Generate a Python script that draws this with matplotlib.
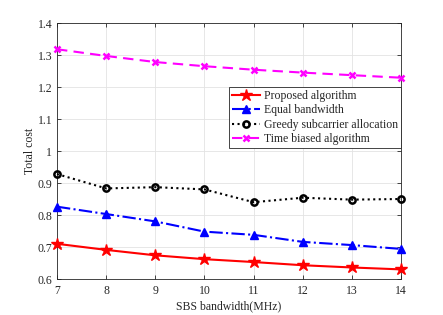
import matplotlib
matplotlib.use("Agg")
import matplotlib.pyplot as plt

bandwidth = [7, 8, 9, 10, 11, 12, 13, 14]
proposed = [0.710, 0.691, 0.674, 0.662, 0.653, 0.643, 0.636, 0.630]
equal_bw = [0.826, 0.803, 0.780, 0.748, 0.738, 0.716, 0.706, 0.694]
greedy = [0.928, 0.883, 0.887, 0.880, 0.840, 0.854, 0.848, 0.850]
time_biased = [1.318, 1.297, 1.278, 1.265, 1.254, 1.245, 1.237, 1.229]
yticks = [0.6, 0.7, 0.8, 0.9, 1.0, 1.1, 1.2, 1.3, 1.4]
ytick_labels = ["0.6", "0.7", "0.8", "0.9", "1", "1.1", "1.2", "1.3", "1.4"]

plt.rcParams['font.family'] = ['Liberation Serif', 'DejaVu Serif']
plt.rcParams['font.size'] = 8.5
txt = '#262626'

fig = plt.figure(figsize=(4.43, 3.15), dpi=100)
ax = fig.add_axes([57/443, 1 - 279/315, (401-57)/443, (279-23)/315])

ax.plot(bandwidth, proposed, '-', color='red', marker='*', markersize=9, lw=1.5, label='Proposed algorithm', clip_on=False, zorder=5)
ax.plot(bandwidth, equal_bw, '-.', color='blue', marker='^', markersize=6, lw=1.5, label='Equal bandwidth', clip_on=False, zorder=5)
ax.plot(bandwidth, greedy, ':', color='black', marker='o', markersize=4.5, markerfacecolor='none', markeredgewidth=1.8, lw=1.5, label='Greedy subcarrier allocation', clip_on=False, zorder=5)
ax.plot(bandwidth, time_biased, '--', color='magenta', marker='x', markersize=5, markeredgewidth=1.8, lw=1.5, dashes=(5, 3), label='Time biased algorithm', clip_on=False, zorder=5)

ax.set_xlim(7, 14)
ax.set_ylim(0.6, 1.4)
ax.set_xticks(bandwidth)
ax.set_yticks(yticks)
ax.set_yticklabels(ytick_labels)
ax.grid(True, color='#e3e3e3', lw=0.6)
ax.set_axisbelow(True)
ax.tick_params(direction='in', top=True, right=True, colors=txt, labelcolor=txt, length=3, width=0.6)
ax.tick_params(axis='x', pad=4)
for s in ax.spines.values():
    s.set_color('#262626')
    s.set_linewidth(0.6)
ax.set_xlabel('SBS bandwidth(MHz)', color=txt, labelpad=3)
ax.set_ylabel('Total cost', color=txt, labelpad=1)

leg = ax.legend(loc='upper right', bbox_to_anchor=(1.0, 1 - (87-23)/256), fancybox=False,
                edgecolor='#262626', framealpha=1, handlelength=2.4, handletextpad=0.3,
                borderpad=0.25, labelspacing=0.2, borderaxespad=0, fontsize=8.5)
leg.get_frame().set_linewidth(0.6)
for t in leg.get_texts():
    t.set_color(txt)

fig.savefig('out.png', dpi=100)
